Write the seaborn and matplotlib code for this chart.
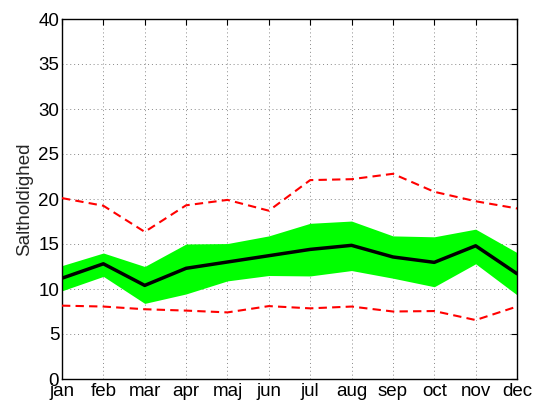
import matplotlib
matplotlib.use("Agg")
import matplotlib.pyplot as plt
import seaborn as sns
import numpy as np
import pandas as pd

months = ["jan", "feb", "mar", "apr", "maj", "jun", "jul", "aug", "sep", "oct", "nov", "dec"]
mean_vals = [11.2, 12.8, 10.4, 12.3, 13.0, 13.7, 14.4, 14.85, 13.56, 12.96, 14.8, 11.7]
band_upper = [12.6, 14.0, 12.5, 15.0, 15.05, 15.9, 17.3, 17.55, 15.9, 15.8, 16.65, 14.05]
band_lower = [9.8, 11.4, 8.4, 9.45, 10.9, 11.5, 11.45, 12.05, 11.2, 10.25, 12.8, 9.35]
max_vals = [20.1, 19.25, 16.35, 19.3, 19.9, 18.7, 22.1, 22.2, 22.8, 20.8, 19.75, 18.95]
min_vals = [8.15, 8.05, 7.75, 7.6, 7.4, 8.1, 7.85, 8.05, 7.5, 7.55, 6.55, 8.05]
yticks = list(range(0, 45, 5))

sns.set_style("white")
plt.rcParams['font.family'] = ['Liberation Sans', 'DejaVu Sans']

x = np.arange(len(months))
df = pd.DataFrame({"x": x, "mean": mean_vals, "max": max_vals, "min": min_vals})

fig = plt.figure(figsize=(5.41, 4.08), dpi=100)
ax = fig.add_axes([62/541, 1 - 379/408, (517-62)/541, (379-19)/408])

ax.fill_between(x, band_lower, band_upper, color="#00ff00", linewidth=0, zorder=2)
sns.lineplot(data=df, x="x", y="mean", color="black", linewidth=2.5, ax=ax, zorder=4)
sns.lineplot(data=df, x="x", y="max", color="red", linewidth=1.5, ax=ax, zorder=3)
sns.lineplot(data=df, x="x", y="min", color="red", linewidth=1.5, ax=ax, zorder=3)
for ln in ax.lines[1:3]:
    ln.set_linestyle((0, (4, 2.5)))

ax.set_xlim(0, len(months) - 1)
ax.set_ylim(0, 40)
ax.set_xticks(x)
ax.set_xticklabels(months)
ax.set_yticks(yticks)
ax.set_xlabel("")
ax.set_ylabel("Saltholdighed", fontsize=13.5, labelpad=4)
ax.tick_params(axis="both", direction="in", length=4, width=0.8, labelsize=13.5,
               top=True, right=True, colors="black")
ax.tick_params(axis="x", pad=3)
ax.tick_params(axis="y", pad=2)
ax.grid(True, linestyle=(0, (1, 3)), color="#888888", linewidth=0.7)
ax.set_axisbelow(True)
for s in ax.spines.values():
    s.set_visible(True)
    s.set_color("black")
    s.set_linewidth(1.0)

fig.savefig("out.png", dpi=100)
